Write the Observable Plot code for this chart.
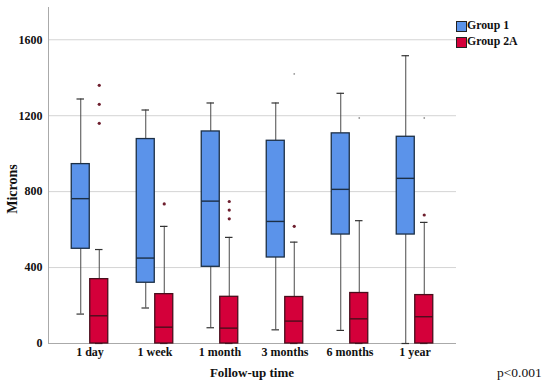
<!DOCTYPE html>
<html>
<head>
<meta charset="utf-8">
<script src="https://cdn.jsdelivr.net/npm/d3@7"></script>
<script src="https://cdn.jsdelivr.net/npm/@observablehq/plot@0.6"></script>
<style>
  html, body { margin: 0; padding: 0; background: #fff; }
  #wrap { position: relative; width: 550px; height: 390px; font-family: "Liberation Serif", serif; color: #111; }
  #wrap svg { position: absolute; left: 0; top: 0; }
  #wrap svg text { font-family: "Liberation Serif", serif !important; font-weight: bold; }
  .lbl { position: absolute; white-space: nowrap; line-height: 1; }
  .sw { position: absolute; width: 9px; height: 9px; border: 1px solid #222; }
</style>
</head>
<body>
<div id="wrap"></div>
<script>
// ---- data ----
const times = ["1 day", "1 week", "1 month", "3 months", "6 months", "1 year"];
const groups = ["Group 1", "Group 2A"];
const yTicks = [0, 400, 800, 1200, 1600];

const g1Low    = [155, 187, 83, 72, 69, 0];
const g1Q1     = [499, 320, 404, 453, 574, 574];
const g1Median = [763, 450, 750, 643, 812, 870];
const g1Q3     = [945, 1077, 1117, 1068, 1107, 1089];
const g1High   = [1288, 1230, 1267, 1267, 1318, 1516];

const g2Low    = [0, 0, 0, 0, 0, 0];
const g2Q1     = [0, 0, 0, 0, 0, 0];
const g2Median = [146, 86, 81, 118, 130, 141];
const g2Q3     = [339, 260, 246, 245, 266, 255];
const g2High   = [495, 617, 559, 534, 647, 638];
const g2Outliers = [[1360, 1260, 1160], [735], [748, 703, 657], [617], [], [677]];
const g2Extremes = [[], [], [], [1420], [1188], [1188]];

const colors = ["#5b93ea", "#d4003a"];
const edge = ["#1c2f45", "#4a0e1c"];

// ---- layout ----
const W = 550, H = 390, mL = 48, mR = 94, mT = 7, mB = 47;
const padOuter = 0.115;
const step = (W - mL - mR) / (times.length + 2 * padOuter);
const half = step / 2;
const boxW = 18.5, capW = 8;

function rows(low, q1, med, q3, high) {
  return times.map((t, i) => ({time: t, low: low[i], q1: q1[i], median: med[i], q3: q3[i], high: high[i]}));
}
const stats = [rows(g1Low, g1Q1, g1Median, g1Q3, g1High), rows(g2Low, g2Q1, g2Median, g2Q3, g2High)];
const outliers = times.flatMap((t, i) => g2Outliers[i].map(v => ({time: t, value: v})));
const extremes = times.flatMap((t, i) => g2Extremes[i].map(v => ({time: t, value: v})));

function boxMarks(data, g) {
  const side = g === 0 ? -1 : 1;
  const off = side * boxW / 2;
  const boxInL = g === 0 ? half - boxW : half;
  const boxInR = g === 0 ? half : half - boxW;
  const capInL = half + off - capW / 2;
  const capInR = half - off - capW / 2;
  return [
    Plot.ruleX(data, {x: "time", y1: "q3", y2: "high", dx: off, stroke: "#4a4a4a", strokeWidth: 1}),
    Plot.ruleX(data, {x: "time", y1: "low", y2: "q1", dx: off, stroke: "#4a4a4a", strokeWidth: 1}),
    Plot.tickY(data, {x: "time", y: "high", insetLeft: capInL, insetRight: capInR, stroke: "#333", strokeWidth: 1.2}),
    Plot.tickY(data, {x: "time", y: "low", insetLeft: capInL, insetRight: capInR, stroke: "#333", strokeWidth: 1.2}),
    Plot.barY(data, {x: "time", y1: "q1", y2: "q3", insetLeft: boxInL, insetRight: boxInR, fill: colors[g], stroke: edge[g], strokeWidth: 1.3}),
    Plot.tickY(data, {x: "time", y: "median", insetLeft: boxInL, insetRight: boxInR, stroke: edge[g], strokeWidth: 1.4})
  ];
}

const chart = Plot.plot({
  width: W, height: H,
  marginLeft: mL, marginRight: mR, marginTop: mT, marginBottom: mB,
  style: {fontFamily: "'Liberation Serif', serif", fontSize: "12px", fontWeight: "bold", color: "#111", background: "transparent"},
  x: {domain: times, paddingInner: 0, paddingOuter: padOuter, label: null},
  y: {domain: [0, 1770], label: null},
  marks: [
    Plot.gridY(yTicks.filter(d => d > 0), {stroke: "#d4d4d4", strokeOpacity: 1}),
    Plot.ruleY([0], {stroke: "#aaa"}),
    Plot.frame({anchor: "left", stroke: "#aaa"}),
    Plot.axisY(yTicks, {tickSize: 0, tickPadding: 6, label: null, fontSize: 12, tickFormat: d => String(d), fill: "#111"}),
    Plot.axisX({tickSize: 0, tickPadding: 4, label: null, fontSize: 12, fill: "#111"}),
    ...boxMarks(stats[0], 0),
    ...boxMarks(stats[1], 1),
    Plot.dot(outliers, {x: "time", y: "value", dx: boxW / 2, r: 1.6, fill: "#6e1f2e", stroke: null}),
    Plot.dot(extremes, {x: "time", y: "value", dx: boxW / 2, r: 0.9, fill: "#999", stroke: null})
  ]
});

const wrap = document.getElementById("wrap");
wrap.appendChild(chart);

function addLabel(text, css) {
  const d = document.createElement("div");
  d.className = "lbl";
  d.textContent = text;
  Object.assign(d.style, css);
  wrap.appendChild(d);
  return d;
}
// axis titles and annotation
addLabel("Microns", {left: "13px", top: "189px", fontSize: "14px", fontWeight: "bold", transform: "translate(-50%,-50%) rotate(-90deg)"});
addLabel("Follow-up time", {left: "252px", top: "372px", fontSize: "13px", fontWeight: "bold", transform: "translate(-50%,-50%)"});
addLabel("p<0.001", {left: "497px", top: "373px", fontSize: "13.5px", transform: "translate(0,-50%)"});

// legend
groups.forEach((g, i) => {
  const s = document.createElement("div");
  s.className = "sw";
  Object.assign(s.style, {left: "456px", top: (21 + i * 16.3) + "px", background: colors[i]});
  wrap.appendChild(s);
  addLabel(g, {left: "467px", top: (26 + i * 16.3) + "px", fontSize: "11.8px", fontWeight: "bold", transform: "translate(0,-50%)"});
});
</script>
</body>
</html>
